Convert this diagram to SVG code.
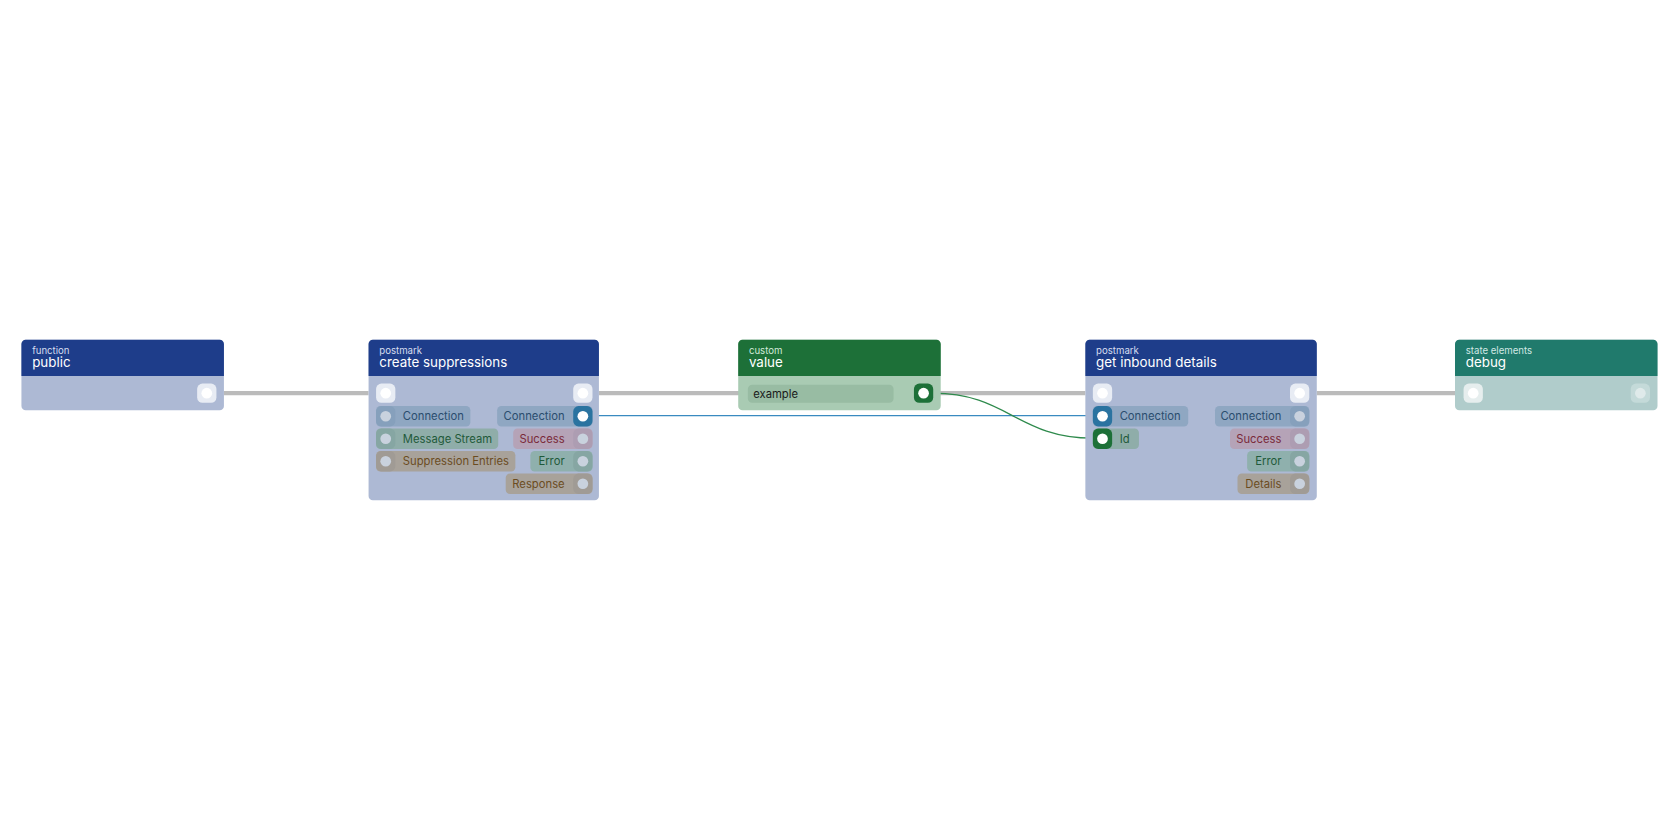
<svg xmlns="http://www.w3.org/2000/svg" width="1680" height="840" viewBox="0 0 1680 840">
<style>
text{font-family:Inter,"Liberation Sans",sans-serif}
.cat{font-size:9px;fill:#d6ddf0}
.ttl{font-size:12.5px;fill:#fff}
.lbl{font-size:10.5px}
.pc{fill:#c9d2de}
.pw{fill:#fff}
</style>
<rect width="1680" height="840" fill="#fff"/>
<g transform="scale(1.07143)">
<g id="connectors" fill="none">
<path d="M209 367H344M559 367H1013M1229 367H1358" stroke="#bbbbbb" stroke-width="4"/>
<path d="M553 388H1020" stroke="#3a8ac0" stroke-width="1.2"/>
<path d="M871 367C940 367 950 409 1020 409" stroke="#2e8a4c" stroke-width="1.2"/>
</g>
<g id="public">
<rect x="20" y="317" width="189" height="66" rx="4" fill="#adb9d4"/>
<path d="M20 351V321a4 4 0 0 1 4-4H205a4 4 0 0 1 4 4V351Z" fill="#1e3d8a"/>
<text x="30" y="330.5" class="cat">function</text><text x="30" y="342.5" class="ttl">public</text>
<rect x="184" y="358" width="18" height="18" rx="5" fill="#e8ecf4"/><circle cx="193" cy="367" r="5" class="pw"/>
</g>
<g id="create-suppressions">
<rect x="344" y="317" width="215" height="150" rx="4" fill="#adb9d4"/>
<path d="M344 351V321a4 4 0 0 1 4-4H555a4 4 0 0 1 4 4V351Z" fill="#1e3d8a"/>
<text x="354" y="330.5" class="cat">postmark</text><text x="354" y="342.5" class="ttl">create suppressions</text>
<rect x="351" y="358" width="18" height="18" rx="5" fill="#e8ecf4"/><circle cx="360" cy="367" r="5" class="pw"/>
<rect x="535" y="358" width="18" height="18" rx="5" fill="#e8ecf4"/><circle cx="544" cy="367" r="5" class="pw"/>
<rect x="351" y="379" width="88" height="19" rx="4" fill="#8fa7c2"/><rect x="351" y="379" width="18" height="19" rx="5" fill="#86a0bc"/><circle cx="360" cy="388.5" r="5" class="pc"/>
<text x="376" y="392" class="lbl" fill="#2a4d6e">Connection</text>
<rect x="351" y="400" width="114" height="19" rx="4" fill="#8fada9"/><rect x="351" y="400" width="18" height="19" rx="5" fill="#86a6a3"/><circle cx="360" cy="409.5" r="5" class="pc"/>
<text x="376" y="413" class="lbl" fill="#1f5a3a">Message Stream</text>
<rect x="351" y="421" width="130" height="19" rx="4" fill="#a8a29a"/><rect x="351" y="421" width="18" height="19" rx="5" fill="#a09b95"/><circle cx="360" cy="430.5" r="5" class="pc"/>
<text x="376" y="434" class="lbl" fill="#6b4c1f">Suppression Entries</text>
<rect x="464" y="379" width="89" height="19" rx="4" fill="#8fa7c2"/><rect x="535" y="379" width="18" height="19" rx="5" fill="#2a73a0"/><circle cx="544" cy="388.5" r="5" class="pw"/>
<text x="527" y="392" class="lbl" fill="#2a4d6e" text-anchor="end">Connection</text>
<rect x="479" y="400" width="74" height="19" rx="4" fill="#b5a3b7"/><rect x="535" y="400" width="18" height="19" rx="5" fill="#ad9db2"/><circle cx="544" cy="409.5" r="5" class="pc"/>
<text x="527" y="413" class="lbl" fill="#7a2a3a" text-anchor="end">Success</text>
<rect x="495" y="421" width="58" height="19" rx="4" fill="#8fb0ad"/><rect x="535" y="421" width="18" height="19" rx="5" fill="#86a6a3"/><circle cx="544" cy="430.5" r="5" class="pc"/>
<text x="527" y="434" class="lbl" fill="#1f5a3a" text-anchor="end">Error</text>
<rect x="472" y="442" width="81" height="19" rx="4" fill="#a8a29a"/><rect x="535" y="442" width="18" height="19" rx="5" fill="#a09b95"/><circle cx="544" cy="451.5" r="5" class="pc"/>
<text x="527" y="455" class="lbl" fill="#6b4c1f" text-anchor="end">Response</text>
</g>
<g id="value">
<rect x="689" y="317" width="189" height="66" rx="4" fill="#a9cbb3"/>
<path d="M689 351V321a4 4 0 0 1 4-4H874a4 4 0 0 1 4 4V351Z" fill="#1d7038"/>
<text x="699" y="330.5" class="cat" style="fill:#d2ead8">custom</text><text x="699" y="342.5" class="ttl">value</text>
<rect x="698" y="359" width="136" height="17" rx="4" fill="#98bca3"/>
<text x="703" y="371" class="lbl" fill="#1a1a1a">example</text>
<rect x="853" y="358" width="18" height="18" rx="5" fill="#1d7038"/><circle cx="862" cy="367" r="5" class="pw"/>
</g>
<g id="get-inbound-details">
<rect x="1013" y="317" width="216" height="150" rx="4" fill="#adb9d4"/>
<path d="M1013 351V321a4 4 0 0 1 4-4H1225a4 4 0 0 1 4 4V351Z" fill="#1e3d8a"/>
<text x="1023" y="330.5" class="cat">postmark</text><text x="1023" y="342.5" class="ttl">get inbound details</text>
<rect x="1020" y="358" width="18" height="18" rx="5" fill="#e8ecf4"/><circle cx="1029" cy="367" r="5" class="pw"/>
<rect x="1204" y="358" width="18" height="18" rx="5" fill="#e8ecf4"/><circle cx="1213" cy="367" r="5" class="pw"/>
<rect x="1020" y="379" width="89" height="19" rx="4" fill="#8fa7c2"/><rect x="1020" y="379" width="18" height="19" rx="5" fill="#2a73a0"/><circle cx="1029" cy="388.5" r="5" class="pw"/>
<text x="1045" y="392" class="lbl" fill="#2a4d6e">Connection</text>
<rect x="1020" y="400" width="43" height="19" rx="4" fill="#8fada9"/><rect x="1020" y="400" width="18" height="19" rx="5" fill="#1d7038"/><circle cx="1029" cy="409.5" r="5" class="pw"/>
<text x="1045" y="413" class="lbl" fill="#1f5a3a">Id</text>
<rect x="1134" y="379" width="88" height="19" rx="4" fill="#8fa7c2"/><rect x="1204" y="379" width="18" height="19" rx="5" fill="#86a0bc"/><circle cx="1213" cy="388.5" r="5" class="pc"/>
<text x="1196" y="392" class="lbl" fill="#2a4d6e" text-anchor="end">Connection</text>
<rect x="1148" y="400" width="74" height="19" rx="4" fill="#b5a3b7"/><rect x="1204" y="400" width="18" height="19" rx="5" fill="#ad9db2"/><circle cx="1213" cy="409.5" r="5" class="pc"/>
<text x="1196" y="413" class="lbl" fill="#7a2a3a" text-anchor="end">Success</text>
<rect x="1164" y="421" width="58" height="19" rx="4" fill="#8fb0ad"/><rect x="1204" y="421" width="18" height="19" rx="5" fill="#86a6a3"/><circle cx="1213" cy="430.5" r="5" class="pc"/>
<text x="1196" y="434" class="lbl" fill="#1f5a3a" text-anchor="end">Error</text>
<rect x="1155" y="442" width="67" height="19" rx="4" fill="#a8a29a"/><rect x="1204" y="442" width="18" height="19" rx="5" fill="#a09b95"/><circle cx="1213" cy="451.5" r="5" class="pc"/>
<text x="1196" y="455" class="lbl" fill="#6b4c1f" text-anchor="end">Details</text>
</g>
<g id="debug">
<rect x="1358" y="317" width="189" height="66" rx="4" fill="#b0cccb"/>
<path d="M1358 351V321a4 4 0 0 1 4-4H1543a4 4 0 0 1 4 4V351Z" fill="#207a6c"/>
<text x="1368" y="330.5" class="cat" style="fill:#d0e8e4">state elements</text><text x="1368" y="342.5" class="ttl">debug</text>
<rect x="1366" y="358" width="18" height="18" rx="5" fill="#e6eeee"/><circle cx="1375" cy="367" r="5" class="pw"/>
<rect x="1522" y="358" width="18" height="18" rx="5" fill="#c4dad9"/><circle cx="1531" cy="367" r="5" fill="#dfeaea"/>
</g>
</g>
</svg>
